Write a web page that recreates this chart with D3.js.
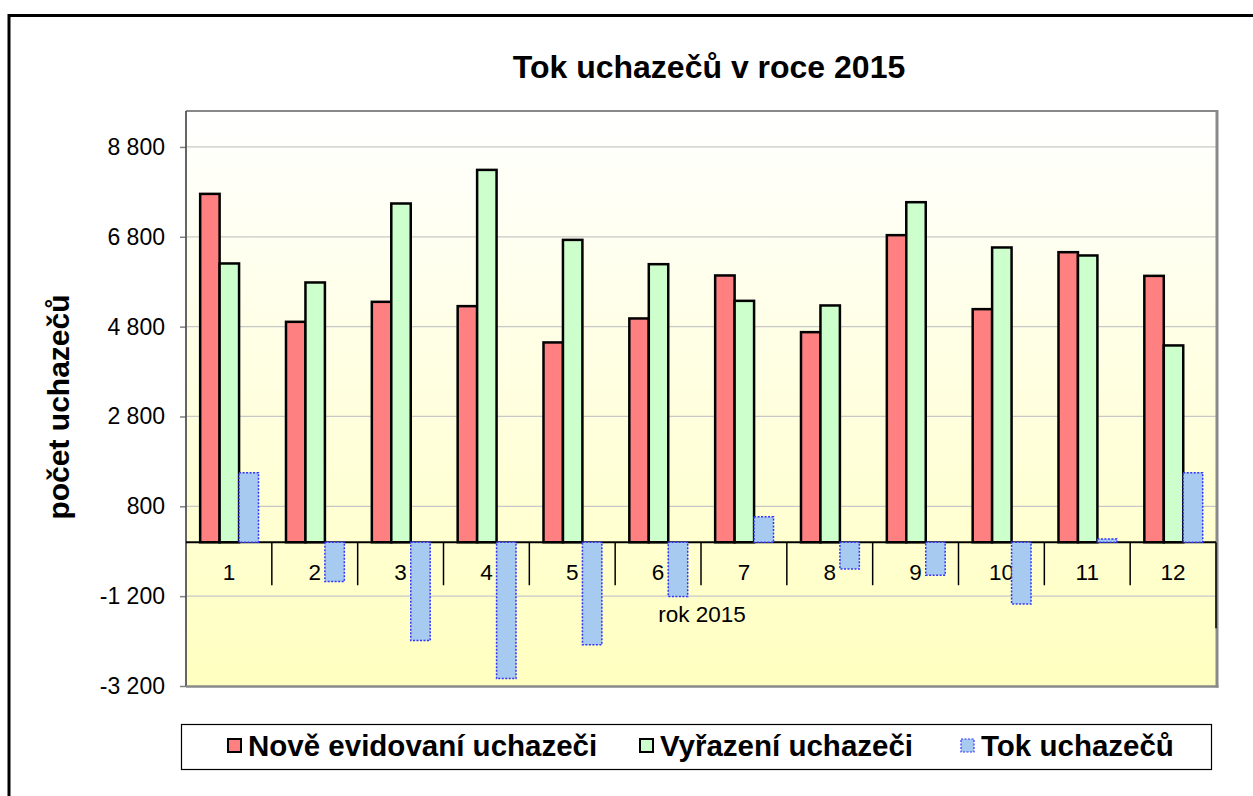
<!DOCTYPE html>
<html>
<head>
<meta charset="utf-8">
<script src="https://cdn.jsdelivr.net/npm/d3@7"></script>
<style>
  html, body { margin: 0; padding: 0; background: #fff; }
  svg { display: block; font-family: "Liberation Sans", Arial, sans-serif; }
</style>
</head>
<body>
<svg id="chart" width="1253" height="796"></svg>
<script>
// ---- data ----
const categories = ["1","2","3","4","5","6","7","8","9","10","11","12"];
const seriesNames = ["Nově evidovaní uchazeči", "Vyřazení uchazeči", "Tok uchazečů"];
const noveEvidovani = [7755, 4907, 5352, 5256, 4448, 4982, 5939, 4677, 6836, 5189, 6457, 5930];
const vyrazeni      = [6206, 5783, 7541, 8289, 6731, 6190, 5374, 5271, 7570, 6562, 6384, 4381];
const tok           = [1549, -876, -2189, -3033, -2283, -1208, 565, -594, -734, -1373, 73, 1549];
const yTicks = [-3200, -1200, 800, 2800, 4800, 6800, 8800];
const titleText = "Tok uchazečů v roce 2015";
const yTitle = "počet uchazečů";
const xTitle = "rok 2015";

// ---- layout ----
const svg = d3.select("#chart");
const plot = { left: 186, top: 111, right: 1216, bottom: 686 };
const colors = ["#FF8080", "#CCFFCC", "#A6CAF0"];

const loc = d3.formatLocale({ decimal: ",", thousands: " ", grouping: [3], currency: ["", " Kč"], minus: "-" });
const fmt = loc.format(",d");

const y = d3.scaleLinear().domain([-3200, 9600]).range([plot.bottom, plot.top]);
const x0 = d3.scaleBand().domain(categories).range([plot.left, plot.right]).padding(0);
const bw = x0.bandwidth();
const x1 = d3.scaleBand().domain(seriesNames).range([bw * 0.165, bw * 0.845]).padding(0);

// outer chart border
svg.append("rect").attr("x", 9).attr("y", 15.5).attr("width", 1300).attr("height", 900)
  .attr("fill", "none").attr("stroke", "#000").attr("stroke-width", 3);

// title
svg.append("text").attr("x", 709).attr("y", 78).attr("text-anchor", "middle")
  .attr("font-size", 32).attr("font-weight", "bold").text(titleText);

// plot background gradient
const defs = svg.append("defs");
const grad = defs.append("linearGradient").attr("id", "bg").attr("x1", 0).attr("y1", 0).attr("x2", 0).attr("y2", 1);
grad.append("stop").attr("offset", "0%").attr("stop-color", "#FFFFFF");
grad.append("stop").attr("offset", "100%").attr("stop-color", "#FFFFC0");
svg.append("rect").attr("x", plot.left).attr("y", plot.top)
  .attr("width", plot.right - plot.left).attr("height", plot.bottom - plot.top)
  .attr("fill", "url(#bg)");

// gridlines
svg.append("g").selectAll("line").data(yTicks.filter(t => t > -3200)).join("line")
  .attr("x1", plot.left).attr("x2", plot.right)
  .attr("y1", d => y(d)).attr("y2", d => y(d))
  .attr("stroke", "#C8C8C8").attr("stroke-width", 1.2);

// y axis
const yAxis = d3.axisLeft(y).tickValues(yTicks).tickFormat(fmt).tickSize(6).tickPadding(15);
const gy = svg.append("g").attr("transform", `translate(${plot.left},0)`).call(yAxis);
gy.select(".domain").remove();
gy.selectAll(".tick line").attr("stroke", "#808080").attr("stroke-width", 1.5);
gy.selectAll(".tick text").attr("font-size", 23).attr("fill", "#000")
  .attr("font-family", "'Liberation Sans', Arial, sans-serif");

// plot border
svg.append("line").attr("x1", plot.left).attr("x2", plot.right).attr("y1", plot.top).attr("y2", plot.top)
  .attr("stroke", "#888").attr("stroke-width", 2);
svg.append("line").attr("x1", plot.left).attr("x2", plot.left).attr("y1", plot.top).attr("y2", plot.bottom)
  .attr("stroke", "#555").attr("stroke-width", 1.8);
svg.append("line").attr("x1", plot.right + 1).attr("x2", plot.right + 1).attr("y1", plot.top - 1).attr("y2", plot.bottom + 1.5)
  .attr("stroke", "#8A8A8A").attr("stroke-width", 3);
svg.append("line").attr("x1", plot.left).attr("x2", plot.right + 2.5).attr("y1", plot.bottom + 0.5).attr("y2", plot.bottom + 0.5)
  .attr("stroke", "#8A8A8A").attr("stroke-width", 2.5);

// category ticks (between categories)
const gx = svg.append("g");
gx.selectAll("line.cat").data(categories.slice(1)).join("line").attr("class", "cat")
  .attr("x1", d => x0(d)).attr("x2", d => x0(d))
  .attr("y1", y(0)).attr("y2", y(0) + 43)
  .attr("stroke", "#000").attr("stroke-width", 1.5);
gx.append("line").attr("x1", plot.right).attr("x2", plot.right)
  .attr("y1", y(0)).attr("y2", y(0) + 86).attr("stroke", "#000").attr("stroke-width", 1.5);

// x axis line
svg.append("line").attr("x1", plot.left).attr("x2", plot.right).attr("y1", y(0)).attr("y2", y(0))
  .attr("stroke", "#000").attr("stroke-width", 1.8);

// category labels
gx.selectAll("text.cat").data(categories).join("text").attr("class", "cat")
  .attr("x", d => x0(d) + bw / 2).attr("y", y(0) + 38)
  .attr("text-anchor", "middle").attr("font-size", 22.5).text(d => d);

// x title
svg.append("text").attr("x", 702).attr("y", 622).attr("text-anchor", "middle")
  .attr("font-size", 22.5).text(xTitle);

// bars
const seriesData = [noveEvidovani, vyrazeni, tok];
seriesData.forEach((vals, si) => {
  const g = svg.append("g");
  g.selectAll("rect").data(vals).join("rect")
    .attr("x", (d, i) => x0(categories[i]) + x1(seriesNames[si]))
    .attr("width", x1.bandwidth())
    .attr("y", d => y(Math.max(0, d)))
    .attr("height", d => Math.abs(y(d) - y(0)))
    .attr("fill", colors[si])
    .attr("stroke", si === 2 ? "#3333FF" : "#000")
    .attr("stroke-width", si === 2 ? 1.5 : 2.5)
    .attr("stroke-dasharray", si === 2 ? "2,1.5" : null);
});

// y title
svg.append("text").attr("transform", "translate(69,407) rotate(-90)")
  .attr("text-anchor", "middle").attr("font-size", 30).attr("font-weight", "bold").text(yTitle);

// legend
const lg = svg.append("g");
lg.append("rect").attr("x", 181.5).attr("y", 724.5).attr("width", 1030).attr("height", 45)
  .attr("fill", "#fff").attr("stroke", "#000").attr("stroke-width", 1.2);
const legendX = [228, 640, 961];
seriesNames.forEach((name, si) => {
  lg.append("rect").attr("x", legendX[si]).attr("y", 739).attr("width", 13).attr("height", 13)
    .attr("fill", colors[si])
    .attr("stroke", si === 2 ? "#3333FF" : "#000")
    .attr("stroke-width", si === 2 ? 1.2 : 2)
    .attr("stroke-dasharray", si === 2 ? "2,1.5" : null);
  lg.append("text").attr("x", legendX[si] + 20).attr("y", 756)
    .attr("font-size", 29.5).attr("font-weight", "bold").text(name);
});
</script>
</body>
</html>
